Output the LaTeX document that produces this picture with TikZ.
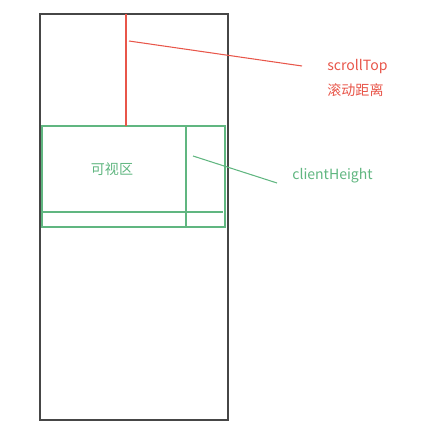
\documentclass[tikz,border=0pt]{standalone}
\usepackage{fontspec}
\setmainfont{Noto Sans CJK SC}
\usetikzlibrary{positioning}
\definecolor{hongse}{RGB}{232,86,74}
\definecolor{lvse}{RGB}{96,182,128}
\definecolor{bianse}{RGB}{70,70,70}
\tikzset{
    yemian/.style={draw=bianse,line width=0.8pt},
    kuang/.style={draw=lvse,line width=0.6pt},
    hongxian/.style={draw=hongse,line width=0.6pt},
    lvxian/.style={draw=lvse,line width=0.6pt},
    wenzi/.style={inner sep=0pt,anchor=west,font=\fontsize{8}{10}\selectfont}
}
\begin{document}
\begin{tikzpicture}[x=0.02cm,y=-0.02cm]
            \useasboundingbox (0,0) rectangle (421,432);
            \def\l{42}%trái khung
            \def\r{225}%phải khung
            \def\t{126}%trên khung
            \def\b{227}%dưới khung
            % trang
            \draw[yemian] (40,14) rectangle (228,420);
            % khung nhìn
            \draw[kuang]
            (\l,\t) rectangle (\r,\b)
            (\l,212)--(223,212)
            (186,\t)--(186,\b);
            \node[text=lvse,font=\fontsize{8}{10}\selectfont,inner sep=0pt] (kv) at (112,169) {可视区};
            % cuộn
            \draw[hongxian] (126,14)--(126,\t);
            \path
            (327,67) node[wenzi,text=hongse] (st) {scrollTop}
            (327,90) node[wenzi,text=hongse] (gd) {滚动距离}
            (292,176) node[wenzi,text=lvse] (ch) {clientHeight}
            ;
            \coordinate (a1) at (129,41);
            \coordinate (a2) at (302,66);
            \coordinate (b1) at (193,156);
            \coordinate (b2) at (277,183);
            \draw[hongxian] (a1)--(a2);
            \draw[lvxian] (b1)--(b2);
        \end{tikzpicture}
\end{document}
